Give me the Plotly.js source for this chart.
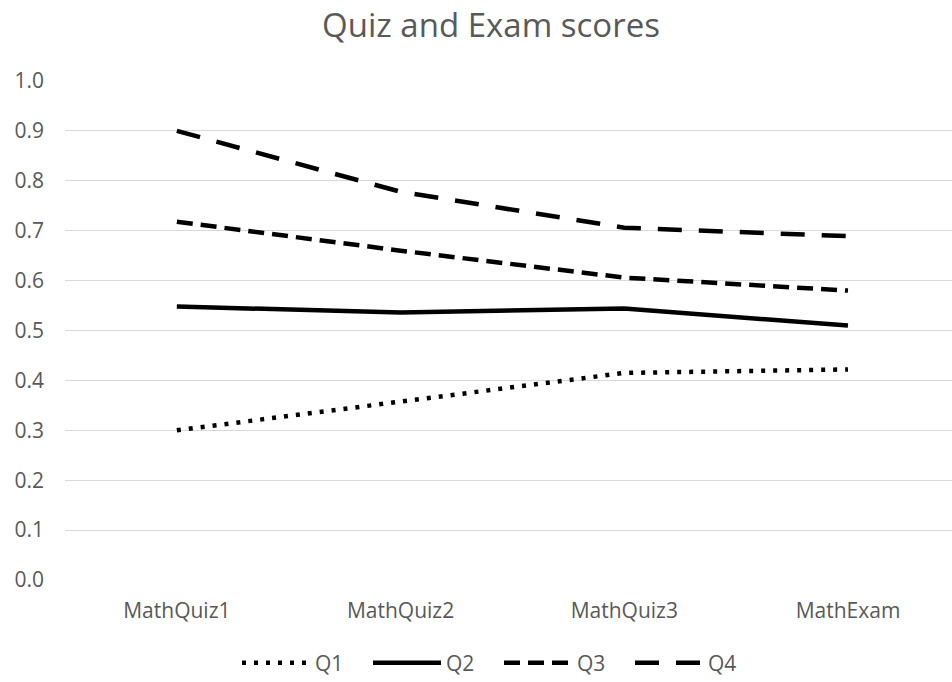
<!DOCTYPE html>
<html>
<head>
<meta charset="utf-8">
<script src="https://cdn.plot.ly/plotly-3.0.1.min.js"></script>
<style>
  html,body{margin:0;padding:0;background:#fff;overflow:hidden;}
  #chart{width:952px;height:682px;}
</style>
</head>
<body>
<div id="chart"></div>
<script>
// ===== data =====
const categories = ['MathQuiz1','MathQuiz2','MathQuiz3','MathExam'];
const seriesNames = ['Q1','Q2','Q3','Q4'];
const q1 = [0.300, 0.357, 0.415, 0.422];
const q2 = [0.548, 0.536, 0.544, 0.510];
const q3 = [0.718, 0.660, 0.606, 0.580];
const q4 = [0.900, 0.778, 0.706, 0.689];
const yTicks = [0,0.1,0.2,0.3,0.4,0.5,0.6,0.7,0.8,0.9,1.0];

// ===== styles =====
const FONT = '"Open Sans", Lato, sans-serif';
const GREY = '#595959';
const dashes = ['4px,8px', 'solid', '16px,8px', '24px,17px'];
const values = [q1, q2, q3, q4];

const traces = values.map((v,i)=>({
  type:'scatter', mode:'lines', name:seriesNames[i],
  x:categories, y:v,
  line:{color:'#000', width:4.5, dash:dashes[i]},
  hoverinfo:'x+y+name'
}));

const layout = {
  width:952, height:682,
  paper_bgcolor:'#fff', plot_bgcolor:'#fff',
  margin:{l:65, r:0, t:81, b:102},
  font:{family:FONT, color:GREY, size:21},
  title:{text:'Quiz and Exam scores', font:{family:FONT, size:33, color:GREY},
         x:491/952, xref:'container', xanchor:'center', y:1-25/682, yref:'container', yanchor:'middle'},
  xaxis:{type:'category', range:[-0.5, 3.465], showgrid:false, zeroline:false,
         showline:false, ticks:'', tickfont:{family:FONT, size:21, color:GREY},
         ticklabelstandoff:16},
  yaxis:{range:[0,1], tickvals:yTicks, tickformat:'.1f', showgrid:true, gridcolor:'#d9d9d9',
         gridwidth:1, zeroline:false, showline:false, ticks:'',
         tickfont:{family:FONT, size:21, color:GREY}, ticklabelstandoff:20},
  showlegend:true,
  legend:{orientation:'h', x:237/952, xref:'container', xanchor:'left', y:1-663/682, yref:'container', yanchor:'middle',
          itemwidth:68, entrywidth:48, entrywidthmode:'pixels',
          font:{family:FONT, size:21, color:GREY}, traceorder:'normal'}
};

Plotly.newPlot('chart', traces, layout, {displayModeBar:false, staticPlot:true});
</script>
</body>
</html>
